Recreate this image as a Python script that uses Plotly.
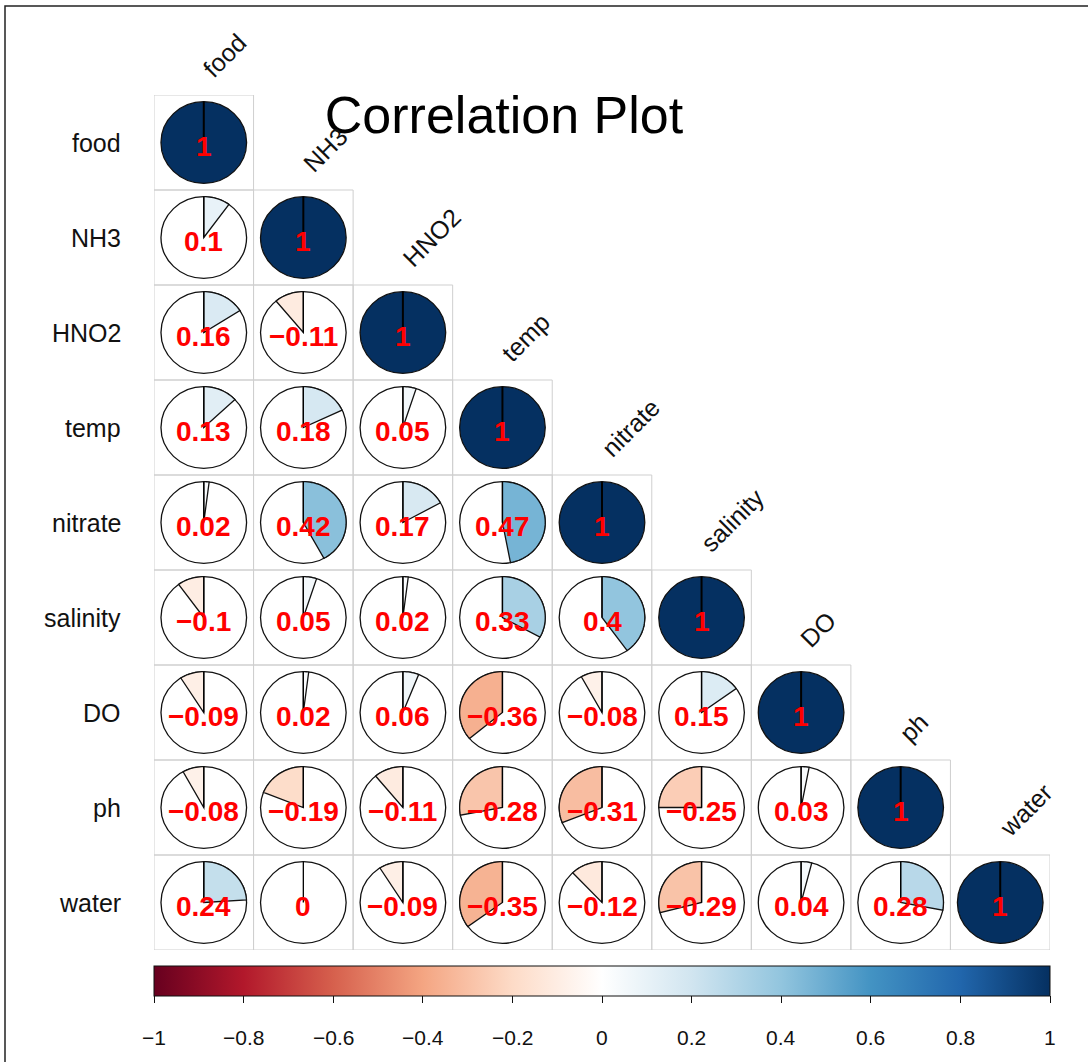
import math
import plotly.graph_objects as go
from plotly.colors import sample_colorscale

# Variables in the order they appear on both axes
variables = ["food", "NH3", "HNO2", "temp", "nitrate", "salinity", "DO", "ph", "water"]

# Lower-triangle correlations, one list per row (excluding the diagonal)
corr_food = []
corr_nh3 = [0.10]
corr_hno2 = [0.16, -0.11]
corr_temp = [0.13, 0.18, 0.05]
corr_nitrate = [0.02, 0.42, 0.17, 0.47]
corr_salinity = [-0.10, 0.05, 0.02, 0.33, 0.40]
corr_do = [-0.09, 0.02, 0.06, -0.36, -0.08, 0.15]
corr_ph = [-0.08, -0.19, -0.11, -0.28, -0.31, -0.25, 0.03]
corr_water = [0.24, 0.00, -0.09, -0.35, -0.12, -0.29, 0.04, 0.28]

lower_rows = [corr_food, corr_nh3, corr_hno2, corr_temp, corr_nitrate,
              corr_salinity, corr_do, corr_ph, corr_water]

# Colour bar ticks
bar_ticks = [-1, -0.8, -0.6, -0.4, -0.2, 0, 0.2, 0.4, 0.6, 0.8, 1]

TITLE = "Correlation Plot"

# RdBu diverging palette (dark red -> white -> dark blue)
rdbu = ["#67001F", "#B2182B", "#D6604D", "#F4A582", "#FDDBC7", "#FFFFFF",
        "#D1E5F0", "#92C5DE", "#4393C3", "#2166AC", "#053061"]
colorscale = [[i / (len(rdbu) - 1), c] for i, c in enumerate(rdbu)]

FONT = "Liberation Sans, Arial, Helvetica, sans-serif"

# Pixel geometry of the plotting area
W, H = 1088, 1062
L, R, T, B = 154, 1088 - 1050, 95, 1062 - 950
PW, PH = W - L - R, H - T - B

n = len(variables)
RADIUS = 0.43


def px_to_paper(xp, yp):
    return (xp - L) / PW, 1 - (yp - T) / PH


def fmt(v):
    s = f"{round(v, 2):g}"
    if s in ("-0",):
        s = "0"
    return s.replace("-", "\u2212")


def value_color(v):
    return sample_colorscale(colorscale, [(v + 1) / 2])[0]


def sector_path(cx, cy, r, v, steps=120):
    # Sector starts at 12 o'clock; positive values sweep clockwise, negative counter-clockwise
    sweep = v * 2 * math.pi
    k = max(2, int(abs(v) * steps) + 2)
    pts = [(cx, cy)]
    for i in range(k + 1):
        t = sweep * i / k
        pts.append((cx + r * math.sin(t), cy - r * math.cos(t)))
    d = "M " + " L ".join(f"{x:.5f},{y:.5f}" for x, y in pts) + " Z"
    return d


# Assemble the full matrix of shown cells (row, col, value)
cells = []
for i in range(n):
    for j, v in enumerate(lower_rows[i]):
        cells.append((i + 1, j + 1, v))
    cells.append((i + 1, i + 1, 1.0))

shapes = []
annotations = []

# Cell borders
for (ri, cj, v) in cells:
    shapes.append(dict(type="rect", xref="x", yref="y",
                       x0=cj - 0.5, x1=cj + 0.5, y0=ri - 0.5, y1=ri + 0.5,
                       line=dict(color="#cfcfcf", width=1), fillcolor="rgba(0,0,0,0)",
                       layer="below"))

# Pies
for (ri, cj, v) in cells:
    col = value_color(v)
    if abs(v) >= 0.999:
        shapes.append(dict(type="circle", xref="x", yref="y",
                           x0=cj - RADIUS, x1=cj + RADIUS, y0=ri - RADIUS, y1=ri + RADIUS,
                           fillcolor=col, line=dict(color="#111111", width=1.3)))
    else:
        shapes.append(dict(type="circle", xref="x", yref="y",
                           x0=cj - RADIUS, x1=cj + RADIUS, y0=ri - RADIUS, y1=ri + RADIUS,
                           fillcolor="white", line=dict(color="#111111", width=1.3)))
        if abs(v) > 0:
            shapes.append(dict(type="path", xref="x", yref="y",
                               path=sector_path(cj, ri, RADIUS, v),
                               fillcolor=col, line=dict(color="#111111", width=1.3)))
    # radius at 12 o'clock
    shapes.append(dict(type="line", xref="x", yref="y",
                       x0=cj, x1=cj, y0=ri, y1=ri - RADIUS,
                       line=dict(color="#000000", width=2 if abs(v) >= 0.999 else 1.3)))
    annotations.append(dict(x=cj, y=ri, xref="x", yref="y", text=fmt(v),
                            showarrow=False, yshift=-4,
                            font=dict(family=FONT, size=28, color="#FF0000", weight="bold")))

# Row labels
for i, name in enumerate(variables):
    annotations.append(dict(x=0.5, y=i + 1, xref="x", yref="y", text=name,
                            xanchor="right", yanchor="middle", xshift=-31,
                            showarrow=False, font=dict(family=FONT, size=25, color="#111111")))

# Rotated column labels above the diagonal cells
for j, name in enumerate(variables):
    annotations.append(dict(x=j + 1, y=j + 0.5, xref="x", yref="y", text=name,
                            textangle=-45, xanchor="left", yanchor="bottom",
                            xshift=-9, yshift=10,
                            showarrow=False, font=dict(family=FONT, size=25, color="#111111")))

# Colour bar tick labels
for t in bar_ticks:
    xp, yp = (t + 1) / 2, px_to_paper(0, 1037)[1]
    annotations.append(dict(x=xp, y=yp, xref="paper", yref="paper", text=fmt(t),
                            showarrow=False, xanchor="center", yanchor="middle",
                            font=dict(family=FONT, size=21, color="#111111")))

# Outer frame
fx0, fy0 = px_to_paper(5, 6)
fx1, fy1 = px_to_paper(1100, 1080)
shapes.append(dict(type="rect", xref="paper", yref="paper",
                   x0=fx0, x1=fx1, y0=fy1, y1=fy0,
                   line=dict(color="#222222", width=1.5), fillcolor="rgba(0,0,0,0)"))

fig = go.Figure()

# Invisible marker carrying the colour scale for the bar
cb_top = px_to_paper(0, 966)[1]
fig.add_trace(go.Scatter(
    x=[1], y=[1], mode="markers", hoverinfo="skip", showlegend=False,
    marker=dict(size=0.1, opacity=0, color=[0], colorscale=colorscale, cmin=-1, cmax=1,
                showscale=True,
                colorbar=dict(orientation="h", x=0.5, xanchor="center", y=cb_top,
                              yanchor="top", len=1, lenmode="fraction",
                              thickness=30, thicknessmode="pixels",
                              xpad=0, ypad=0, outlinewidth=1, outlinecolor="#111111",
                              tickvals=bar_ticks, ticks="outside", ticklen=7,
                              tickcolor="#111111", showticklabels=False)),
))

fig.update_layout(
    width=W, height=H,
    margin=dict(l=L, r=R, t=T, b=B, pad=0),
    plot_bgcolor="white", paper_bgcolor="white",
    xaxis=dict(range=[0.5, n + 0.5], visible=False, fixedrange=True),
    yaxis=dict(range=[n + 0.5, 0.5], visible=False, fixedrange=True),
    shapes=shapes,
    annotations=annotations,
    showlegend=False,
    title=dict(text=TITLE, x=504 / W, xanchor="center", xref="container",
               y=1 - 115 / H, yanchor="middle", yref="container",
               font=dict(family=FONT, size=52, color="#000000")),
)

fig.write_html("out.html")
